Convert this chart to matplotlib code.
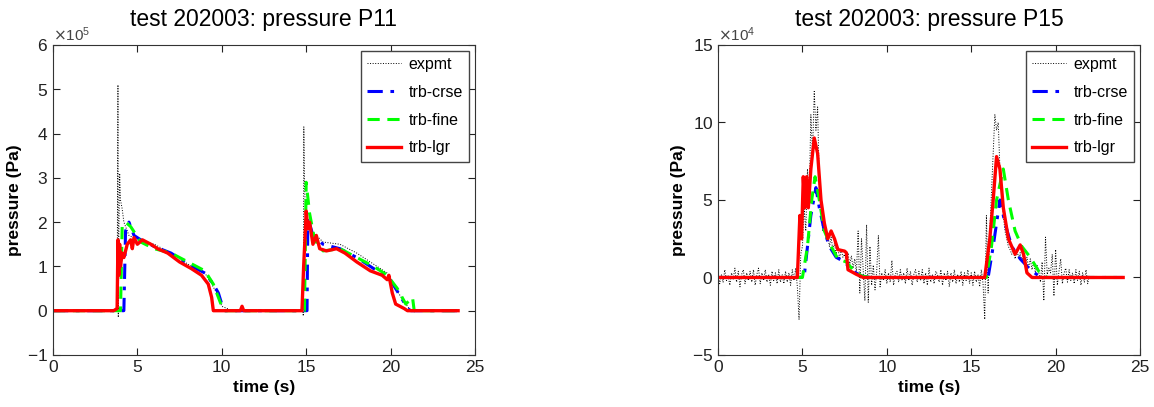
import numpy as np
import matplotlib
matplotlib.use("Agg")
from matplotlib import pyplot as plt
from matplotlib.ticker import ScalarFormatter

plt.rcParams['font.family'] = ['Liberation Sans', 'DejaVu Sans']
plt.rcParams['axes.unicode_minus'] = False

# ---- P11 (units of 1e5 Pa) ----
p11_exp_t = [0, 3.80, 3.85, 3.87, 3.90, 3.95, 4.00, 4.10, 4.20, 4.50, 5.0, 6.0, 7.0, 8.0, 9.0, 9.4, 9.7, 10.0, 10.5, 11.0,
             14.80, 14.83, 14.86, 14.90, 15.0, 15.3, 15.6, 16.0, 17.0, 18.0, 19.0, 19.8, 20.3, 20.8, 21.2, 22.0]
p11_exp_v = [0, 0.0, 5.1, -0.15, 1.6, 3.1, 2.5, 2.3, 2.0, 1.7, 1.6, 1.5, 1.3, 1.05, 0.85, 0.6, 0.4, 0.1, 0.02, 0.0,
             0.0, -0.12, 4.15, 2.8, 2.0, 1.8, 1.7, 1.55, 1.5, 1.3, 1.05, 0.85, 0.5, 0.2, 0.0, 0.0]

p11_crse_t = [0, 4.2, 4.3, 4.5, 4.8, 5.2, 6.0, 7.0, 8.0, 9.0, 9.5, 9.8, 10.0, 10.2,
              15.05, 15.1, 15.4, 16.0, 17.0, 18.0, 19.0, 19.8, 20.3, 20.7, 21.0, 21.2, 24.0]
p11_crse_v = [0, 0.0, 1.8, 2.0, 1.7, 1.6, 1.45, 1.3, 1.05, 0.85, 0.6, 0.4, 0.15, 0.0,
              0.0, 2.1, 1.7, 1.5, 1.4, 1.2, 0.95, 0.8, 0.5, 0.25, 0.05, 0.0, 0.0]

p11_fine_t = [0, 4.0, 4.1, 4.3, 4.6, 5.2, 6.0, 7.0, 8.0, 9.0, 9.5, 9.8, 10.0, 10.2,
              14.9, 15.0, 15.2, 15.5, 16.0, 17.0, 18.0, 19.0, 19.8, 20.4, 20.9, 21.3, 21.4, 24.0]
p11_fine_v = [0, 0.0, 1.9, 2.0, 1.9, 1.55, 1.4, 1.3, 1.1, 0.9, 0.6, 0.3, 0.1, 0.0,
              0.0, 2.9, 2.2, 1.6, 1.35, 1.4, 1.2, 1.0, 0.8, 0.5, 0.15, 0.3, 0.0, 0.0]

p11_lgr_t = [0, 3.6, 3.8, 3.85, 3.9, 3.95, 4.0, 4.1, 4.2, 4.4, 4.6, 4.7, 4.8, 5.0, 5.3, 5.8, 6.2, 6.8, 7.5, 8.2,
             8.8, 9.2, 9.4, 9.5, 11.1, 11.2, 11.3, 14.75, 14.85, 14.95, 15.0, 15.1, 15.2, 15.4, 15.6, 15.8,
             16.2, 16.8, 17.3, 18.0, 18.8, 19.5, 19.8, 19.9, 20.1, 20.3, 20.8, 21.0, 24.0]
p11_lgr_v = [0, 0.0, 0.05, 1.6, 0.8, 1.5, 1.0, 1.3, 1.2, 1.5, 1.6, 1.4, 1.65, 1.5, 1.6, 1.5, 1.4, 1.3, 1.1, 0.95,
             0.8, 0.6, 0.3, 0.0, 0.0, 0.1, 0.0, 0.0, 1.0, 1.8, 2.25, 1.85, 2.0, 1.5, 1.7, 1.4,
             1.35, 1.4, 1.3, 1.1, 0.9, 0.8, 0.7, 0.8, 0.4, 0.15, 0.05, 0.0, 0.0]

# ---- P15 (units of 1e4 Pa) ----
p15_exp_t = np.round(np.arange(0, 22.05, 0.1), 2)
p15_exp_v = [
    0.3, -0.4, 0.2, -0.3, 0.5, -0.2, 0.1, -0.5, 0.3, -0.1,
    0.6, -0.3, 0.4, -0.6, 0.2, 0.5, -0.4, 0.3, -0.2, 0.4,
    -0.3, 0.5, -0.5, 0.2, 0.6, -0.4, 0.3, -0.2, 0.5, -0.3,
    0.2, -0.5, 0.4, -0.2, 0.3, -0.4, 0.5, -0.3, 0.2, -0.4,
    0.4, -0.3, 0.3, -0.5, 0.5, -0.2, 0.6, -0.6, -2.7, 1.5,
    2.0, 4.5, 3.0, 7.0, 5.0, 10.5, 8.0, 12.0, 9.5, 11.0,
    6.0, 4.5, 3.0, 3.5, 2.5, 2.8, 2.0, 2.6, 1.8, 2.2,
    1.5, 2.0, 1.2, 1.8, 1.3, 1.5, 1.0, 1.6, 0.8, 1.4,
    0.6, 1.2, 0.3, 3.0, -1.0, 2.5, 0.5, -1.5, 3.4, -1.6,
    2.0, -0.5, 0.8, -0.8, 0.4, 2.7, -0.6, 0.3, -0.2, 0.5,
    -0.4, 0.3, -0.3, 1.1, -0.5, 0.2, 0.4, -0.3, 0.5, -0.2,
    0.3, -0.4, 0.6, -0.2, 0.4, -0.5, 0.2, 0.5, -0.3, 0.4,
    -0.2, 0.5, -0.4, 0.3, -0.5, 0.6, -0.3, 0.2, -0.4, 0.4,
    0.2, -0.3, 0.5, -0.5, 0.3, -0.2, 0.4, -0.6, 0.3, -0.3,
    0.5, -0.4, 0.2, -0.3, 0.4, -0.5, 0.3, -0.2, 0.5, -0.4,
    0.3, -0.5, 0.4, -0.3, 0.2, -0.6, 0.5, -0.4, -2.7, 4.0,
    -1.0, 3.0, 5.5, 8.0, 10.5, 9.5, 10.0, 7.0, 5.5, 4.0,
    3.0, 2.5, 2.0, 1.8, 1.5, 1.7, 1.2, 1.8, 1.3, 1.6,
    1.0, 1.5, 0.8, 1.3, 0.6, 1.2, 0.5, 1.0, 0.3, 0.8,
    0.4, -0.3, 1.0, -1.5, 2.6, 0.2, 0.6, 0.3, 1.5, -1.2,
    1.8, -0.5, 0.4, 1.2, -0.4, 0.3, 0.6, -0.3, 0.5, -0.2,
    0.3, -0.4, 0.5, -0.2, 0.4, -0.5, 0.3, -0.3, 0.5, -0.4,
    0.2]

p15_crse_t = [0, 5.1, 5.3, 5.5, 5.8, 6.0, 6.3, 6.6, 7.0, 7.5, 8.0, 8.5, 9.0,
              16.0, 16.3, 16.7, 17.0, 17.4, 17.9, 18.5, 19.0, 19.5, 24.0]
p15_crse_v = [0, 0.0, 2.0, 4.0, 5.8, 4.5, 3.0, 2.0, 1.3, 1.0, 0.4, 0.1, 0.0,
              0.0, 2.0, 5.0, 3.5, 2.0, 1.2, 0.5, 0.1, 0.0, 0.0]

p15_fine_t = [0, 5.0, 5.3, 5.55, 5.75, 6.0, 6.3, 6.7, 7.1, 7.6, 8.0, 8.5, 9.0,
              15.9, 16.2, 16.5, 16.9, 17.2, 17.6, 18.0, 18.5, 19.0, 19.5, 24.0]
p15_fine_v = [0, 0.0, 2.0, 5.0, 6.5, 5.0, 3.0, 2.0, 1.2, 1.0, 0.5, 0.1, 0.0,
              0.0, 2.0, 5.0, 7.0, 5.0, 3.0, 2.0, 1.3, 0.4, 0.0, 0.0]

p15_lgr_t = [0, 4.7, 4.85, 4.95, 5.05, 5.15, 5.25, 5.35, 5.5, 5.7, 5.9, 6.1, 6.3, 6.5, 6.7, 6.9, 7.1, 7.5, 7.6, 7.7,
             8.2, 8.6, 15.8, 16.1, 16.3, 16.5, 16.7, 16.9, 17.2, 17.6, 17.9, 18.1, 18.3, 18.6, 24.0]
p15_lgr_v = [0, 0.0, 4.0, 2.5, 6.5, 4.5, 6.5, 4.5, 7.0, 9.0, 8.0, 5.0, 3.5, 2.5, 3.0, 2.5, 1.8, 1.7, 1.6, 0.5,
             0.2, 0.0, 0.0, 2.5, 5.0, 7.8, 7.0, 4.5, 2.5, 1.5, 2.1, 1.5, 0.3, 0.0, 0.0]

labels = ['expmt', 'trb-crse', 'trb-fine', 'trb-lgr']

fig = plt.figure(figsize=(11.54, 4.07), dpi=100)
ax1 = fig.add_axes([0.0459, 0.1278, 0.3657, 0.7617])
ax2 = fig.add_axes([0.6222, 0.1278, 0.3657, 0.7617])


def draw(ax, scale, exp_t, exp_v, crse_t, crse_v, fine_t, fine_v, lgr_t, lgr_v, title, ylim, yticks, power):
    ax.plot(exp_t, np.array(exp_v) * scale, color='k', ls=':', lw=0.7, label=labels[0])
    ax.plot(crse_t, np.array(crse_v) * scale, color='#0000ff', lw=2.2, dashes=(5, 2.5, 1.2, 2.5), label=labels[1])
    ax.plot(fine_t, np.array(fine_v) * scale, color='#00ff00', lw=2.2, dashes=(4, 2.5), label=labels[2])
    ax.plot(lgr_t, np.array(lgr_v) * scale, color='#ff0000', lw=2.4, label=labels[3])
    ax.set_xlim(0, 25)
    ax.set_ylim(ylim[0] * scale, ylim[1] * scale)
    ax.set_xticks([0, 5, 10, 15, 20, 25])
    ax.set_yticks(np.array(yticks) * scale)
    fmt = ScalarFormatter(useMathText=True)
    fmt.set_powerlimits((power, power))
    ax.yaxis.set_major_formatter(fmt)
    ax.tick_params(direction='in', top=True, right=True, length=5, labelsize=12.5, colors='#222222')
    ax.yaxis.get_offset_text().set_fontsize(11)
    ax.yaxis.get_offset_text().set_color('#444444')
    for s in ax.spines.values():
        s.set_color('#333333')
        s.set_linewidth(0.8)
    ax.set_title(title, fontsize=16.5, pad=14)
    ax.set_xlabel('time (s)', fontsize=12.5, fontweight='bold')
    ax.set_ylabel('pressure (Pa)', fontsize=12.5, fontweight='bold')
    leg = ax.legend(loc='upper right', fontsize=11.5, handlelength=2.1, handletextpad=0.5,
                    labelspacing=0.8, fancybox=False, borderaxespad=0.35, framealpha=1)
    leg.get_frame().set_edgecolor('#444444')
    leg.get_frame().set_linewidth(1.0)


draw(ax1, 1e5, p11_exp_t, p11_exp_v, p11_crse_t, p11_crse_v, p11_fine_t, p11_fine_v, p11_lgr_t, p11_lgr_v,
     'test 202003: pressure P11', (-1, 6), [-1, 0, 1, 2, 3, 4, 5, 6], 5)
draw(ax2, 1e4, p15_exp_t, p15_exp_v, p15_crse_t, p15_crse_v, p15_fine_t, p15_fine_v, p15_lgr_t, p15_lgr_v,
     'test 202003: pressure P15', (-5, 15), [-5, 0, 5, 10, 15], 4)

fig.savefig('out.png', dpi=100)
